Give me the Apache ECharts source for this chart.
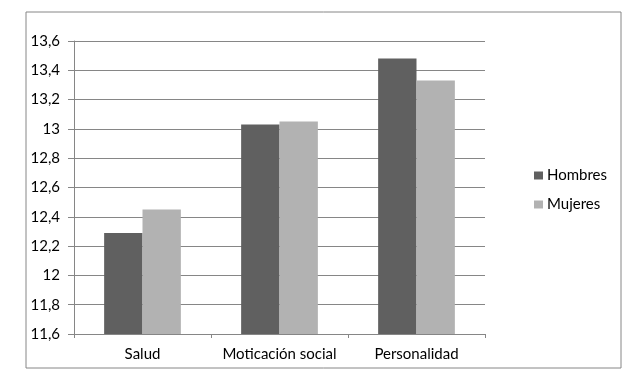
<!DOCTYPE html>
<html>
<head>
<meta charset="utf-8">
<script src="https://cdn.jsdelivr.net/npm/echarts@6/dist/echarts.min.js"></script>
<style>
  html, body { margin: 0; padding: 0; background: #fff; }
  #chart { width: 643px; height: 378px; }
</style>
</head>
<body>
<div id="chart"></div>
<script>
// data
var categories = ['Salud', 'Moticación social', 'Personalidad'];
var hombres = [12.29, 13.03, 13.48];
var mujeres = [12.45, 13.05, 13.33];
var seriesNames = ['Hombres', 'Mujeres'];

var chart = echarts.init(document.getElementById('chart'));

var option = {
  backgroundColor: '#fff',
  animation: false,
  textStyle: { fontFamily: 'Lato', color: '#000' },
  graphic: [{
    type: 'rect',
    shape: { x: 26, y: 12, width: 595, height: 356 },
    style: { fill: 'none', stroke: '#868686', lineWidth: 1 }
  }],
  legend: {
    data: seriesNames,
    orient: 'vertical',
    left: 529,
    top: 163,
    itemWidth: 9,
    itemHeight: 8,
    itemGap: 14,
    icon: 'rect',
    textStyle: { fontSize: 15, color: '#000', fontFamily: 'Lato', padding: [0, 0, 0, -1] }
  },
  grid: {
    left: 74,
    right: 158,
    top: 41,
    bottom: 44
  },
  xAxis: {
    type: 'category',
    data: categories,
    axisLine: { lineStyle: { color: '#868686' } },
    axisTick: { show: true, length: 4, lineStyle: { color: '#868686' } },
    axisLabel: { fontSize: 15, color: '#000', margin: 13, interval: 0 }
  },
  yAxis: {
    type: 'value',
    min: 11.6,
    max: 13.6,
    interval: 0.2,
    axisLine: { show: true, lineStyle: { color: '#868686' } },
    axisTick: { show: true, length: 6, lineStyle: { color: '#868686' } },
    splitLine: { lineStyle: { color: '#868686' } },
    axisLabel: {
      fontSize: 15,
      color: '#000',
      margin: 14,
      formatter: function (v) {
        return String(Math.round(v * 10) / 10).replace('.', ',');
      }
    }
  },
  series: [
    {
      name: 'Hombres',
      type: 'bar',
      data: hombres,
      barGap: '0%',
      barCategoryGap: '44%',
      itemStyle: { color: '#606060' }
    },
    {
      name: 'Mujeres',
      type: 'bar',
      data: mujeres,
      itemStyle: { color: '#b2b2b2' }
    }
  ]
};

chart.setOption(option);
</script>
</body>
</html>
